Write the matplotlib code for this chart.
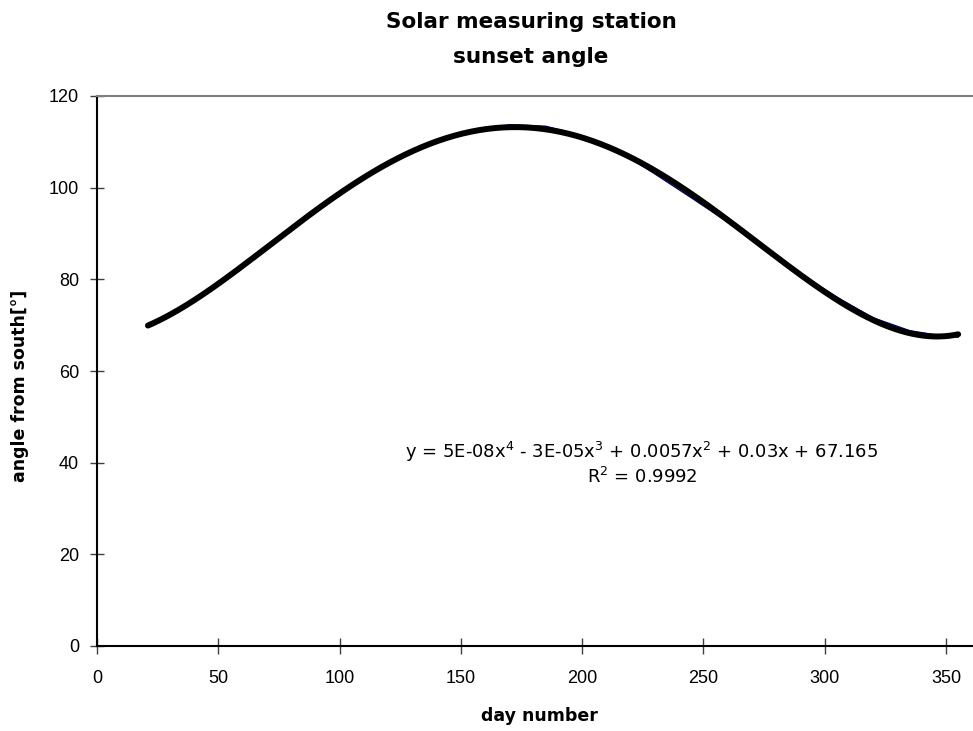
import numpy as np
import matplotlib
matplotlib.use('Agg')
import matplotlib.pyplot as plt

plt.rcParams['font.family'] = ['Liberation Sans', 'DejaVu Sans']
plt.rcParams['mathtext.fontset'] = 'dejavusans'

days = [21, 35, 50, 65, 80, 95, 110, 125, 140, 155, 170, 185,
        200, 215, 230, 245, 260, 275, 290, 305, 320, 335, 350, 355]
angle = [70.0, 74.0, 78.9, 84.7, 91.0, 96.6, 102.0, 106.8, 110.2, 112.3, 113.7, 113.4,
         111.3, 108.0, 103.0, 97.8, 92.5, 86.6, 81.2, 76.1, 71.6, 68.8, 67.5, 67.4]

x_ticks = [0, 50, 100, 150, 200, 250, 300, 350]
y_ticks = [0, 20, 40, 60, 80, 100, 120]

fig = plt.figure(figsize=(9.73, 7.31), dpi=100)
ax = fig.add_axes([97/973, 1 - 646/731, 1 - 97/973, 550/731])

# 4th order polynomial trend line
coef = np.polyfit(days, angle, 4)
xs = np.linspace(min(days), max(days), 300)
ax.plot(xs, np.polyval(coef, xs), color='black', lw=4.3, solid_capstyle='round', zorder=2)
ax.plot(days, angle, color='#000080', lw=1, zorder=1)

ax.set_xlim(0, 876 / (849 / 350))
ax.set_ylim(0, 120)
ax.set_xticks(x_ticks)
ax.set_yticks(y_ticks)
ax.tick_params(axis='x', direction='inout', length=12, width=1, color='#404040',
               labelsize=13, pad=11)
ax.tick_params(axis='y', direction='inout', length=10, width=1, color='#404040',
               labelsize=13, pad=8)

ax.spines['right'].set_visible(False)
ax.spines['top'].set_color('#808080')
ax.spines['top'].set_linewidth(1.5)
ax.spines['left'].set_linewidth(1.5)
ax.spines['bottom'].set_linewidth(1.5)

bold = dict(family='DejaVu Sans', fontweight='bold')
ax.set_xlabel('day number', fontsize=12.5, va='center', **bold)
ax.xaxis.set_label_coords(0.5046, -0.127)
ax.set_ylabel('angle from south[°]', fontsize=12.5, va='center', **bold)
ax.yaxis.set_label_coords(-0.0879, 0.473)

fig.text(531/973, 1 - 22/731, 'Solar measuring station', ha='center', va='center',
         fontsize=15.5, **bold)
fig.text(531/973, 1 - 57/731, 'sunset angle', ha='center', va='center',
         fontsize=15.5, **bold)

ax.text(0.622, 0.341, r'y = 5E-08x$^4$ - 3E-05x$^3$ + 0.0057x$^2$ + 0.03x + 67.165',
        transform=ax.transAxes, ha='center', va='baseline', fontsize=13, family='DejaVu Sans')
ax.text(0.622, 0.296, r'R$^2$ = 0.9992', transform=ax.transAxes, ha='center', va='baseline',
        fontsize=13, family='DejaVu Sans')

plt.savefig('out.png', dpi=100)
